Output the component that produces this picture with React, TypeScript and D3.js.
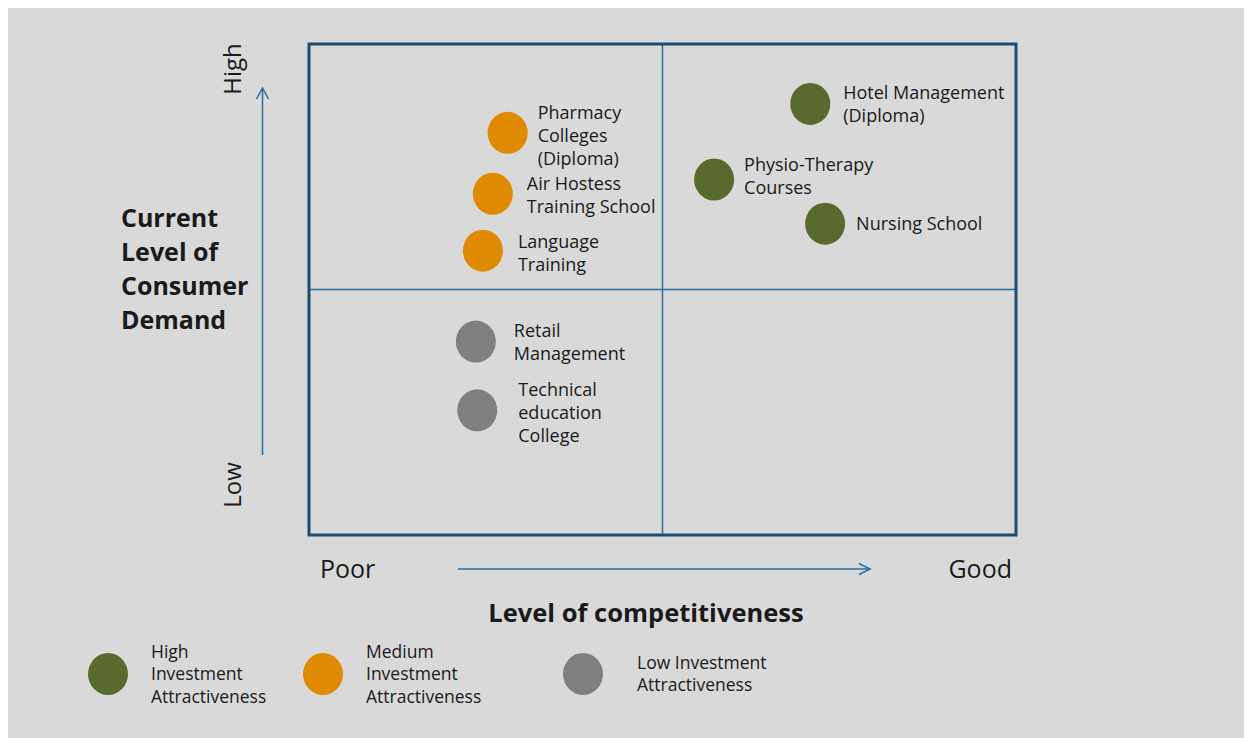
import { useEffect } from "react";
import * as d3 from "d3";

// programs plotted on the matrix
const programs = [
  "Pharmacy Colleges (Diploma)",
  "Air Hostess Training School",
  "Language Training",
  "Hotel Management (Diploma)",
  "Physio-Therapy Courses",
  "Nursing School",
  "Retail Management",
  "Technical education College",
];
const labelLines = [
  ["Pharmacy", "Colleges", "(Diploma)"],
  ["Air Hostess", "Training School"],
  ["Language", "Training"],
  ["Hotel Management", "(Diploma)"],
  ["Physio-Therapy", "Courses"],
  ["Nursing School"],
  ["Retail", "Management"],
  ["Technical", "education", "College"],
];
// 0 = poor .. 100 = good
const competitiveness = [28.1, 26.0, 24.6, 70.9, 57.3, 73.0, 23.6, 23.8];
// 0 = low .. 100 = high
const demand = [81.9, 69.5, 57.9, 87.8, 72.4, 63.4, 39.4, 25.4];
const attractiveness = ["Medium", "Medium", "Medium", "High", "High", "High", "Low", "Low"];

const tiers = ["High", "Medium", "Low"];
const tierColors = ["#5a6a2f", "#df8a00", "#7f7f7f"];
const legendLabels = [
  ["High", "Investment", "Attractiveness"],
  ["Medium", "Investment", "Attractiveness"],
  ["Low Investment", "Attractiveness"],
];

// layout
const W = 1252;
const H = 738;
const box = { left: 309, top: 44, right: 1016, bottom: 535 };
const labelDx = [30, 34, 35, 33, 30, 31, 38, 41];
const labelDy = [9, 7.5, 8.5, 6.5, 3, 6, 7, 9];
const legendX = [108, 323, 583];
const legendTextX = [151, 366, 637];
const legendY = 674;

const font = "'Open Sans', sans-serif";
const ink = "#1a1a1a";
const navy = "#1b4b70";
const blue = "#2a6d9c";

export default function App() {
  useEffect(() => {
    document.body.style.overflow = "hidden";
  }, []);

  const x = d3.scaleLinear().domain([0, 100]).range([box.left, box.right]);
  const y = d3.scaleLinear().domain([0, 100]).range([box.bottom, box.top]);
  const color = d3.scaleOrdinal<string, string>().domain(tiers).range(tierColors);

  const lh = 23;
  const yTitle = ["Current", "Level of", "Consumer", "Demand"];

  return (
    <svg width={W - 8} height={H - 8} viewBox={`8 8 ${W - 8} ${H - 8}`} style={{ display: "block" }} fontFamily={font}>
      <rect x={8} y={8} width={W} height={H} fill="#d9d9d9" />

      {/* quadrant dividers */}
      <line x1={x(50)} x2={x(50)} y1={box.top} y2={box.bottom} stroke={blue} strokeWidth={1.5} />
      <line x1={box.left} x2={box.right} y1={y(50)} y2={y(50)} stroke={blue} strokeWidth={1.5} />
      <rect
        x={box.left}
        y={box.top}
        width={box.right - box.left}
        height={box.bottom - box.top}
        fill="none"
        stroke={navy}
        strokeWidth={3}
      />

      {/* bubbles */}
      {programs.map((p, i) => {
        const cx = x(competitiveness[i]);
        const cy = y(demand[i]);
        const lines = labelLines[i];
        return (
          <g key={p}>
            <ellipse cx={cx} cy={cy} rx={20} ry={21} fill={color(attractiveness[i])} />
            <text fontSize={18} fill={ink}>
              {lines.map((l, j) => (
                <tspan key={j} x={cx + labelDx[i]} y={cy + labelDy[i] + (j - (lines.length - 1) / 2) * lh}>
                  {l}
                </tspan>
              ))}
            </text>
          </g>
        );
      })}

      {/* y axis */}
      <text transform="translate(241,69) rotate(-90)" textAnchor="middle" fontSize={24} fill={ink}>
        High
      </text>
      <text transform="translate(241,485) rotate(-90)" textAnchor="middle" fontSize={24} fill={ink}>
        Low
      </text>
      <line x1={262.5} x2={262.5} y1={455} y2={88} stroke={blue} strokeWidth={1.5} />
      <polyline points="256.5,99 262.5,88 268.5,99" fill="none" stroke={blue} strokeWidth={1.5} />
      <text fontSize={25} fontWeight={700} fill={ink}>
        {yTitle.map((t, j) => (
          <tspan key={t} x={121} y={227 + j * 34}>
            {t}
          </tspan>
        ))}
      </text>

      {/* x axis */}
      <text x={320} y={578} fontSize={25} fill={ink}>
        Poor
      </text>
      <text x={1012} y={578} fontSize={25} fill={ink} textAnchor="end">
        Good
      </text>
      <line x1={458} x2={870} y1={569} y2={569} stroke={blue} strokeWidth={1.5} />
      <polyline points="859,563.5 870,569 859,574.5" fill="none" stroke={blue} strokeWidth={1.5} />
      <text x={646} y={622} fontSize={25.5} fontWeight={700} fill={ink} textAnchor="middle">
        Level of competitiveness
      </text>

      {/* legend */}
      {tiers.map((t, i) => {
        const lines = legendLabels[i];
        return (
          <g key={t}>
            <ellipse cx={legendX[i]} cy={legendY} rx={20} ry={21} fill={color(t)} />
            <text fontSize={17.5} fill={ink}>
              {lines.map((l, j) => (
                <tspan key={j} x={legendTextX[i]} y={legendY + 6 + (j - (lines.length - 1) / 2) * 22.5}>
                  {l}
                </tspan>
              ))}
            </text>
          </g>
        );
      })}
    </svg>
  );
}
